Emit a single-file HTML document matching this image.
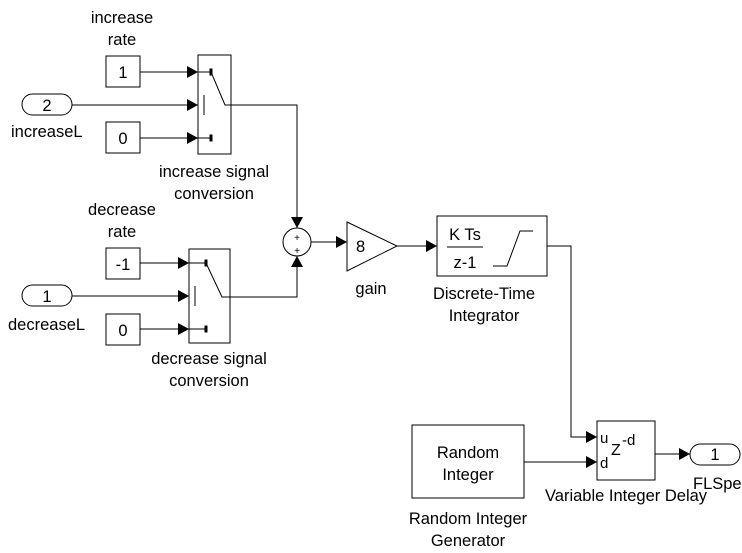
<!DOCTYPE html>
<html><head><style>body{margin:0;background:#fff}svg{display:block}text{font-family:"Liberation Sans",Arial,sans-serif;font-size:16.5px;fill:#000}</style></head>
<body>
<svg width="742" height="553" viewBox="0 0 742 553">
<defs><marker id="a" markerWidth="12" markerHeight="12" refX="11" refY="6" orient="auto" markerUnits="userSpaceOnUse"><path d="M0,0 L11,6 L0,12 z" fill="#000"/></marker></defs>
<g fill="none" stroke="#000" stroke-width="1">
<rect x="106" y="56" width="34" height="31"/>
<rect x="106" y="122" width="34" height="31"/>
<rect x="106" y="248" width="34" height="31"/>
<rect x="106" y="314" width="34" height="31"/>
<rect x="22" y="94" width="50" height="21" rx="10.5"/>
<rect x="22" y="285" width="50" height="21" rx="10.5"/>
<rect x="198" y="55" width="33" height="99"/>
<rect x="189" y="249" width="41" height="94"/>
<path d="M198,72 H211 M211,72 L225,105 H231 M198,138 H211 M204,95 V115"/>
<rect x="210" y="69" width="2" height="6" fill="#000"/><rect x="210" y="135" width="2" height="6" fill="#000"/>
<path d="M189,263 H206 M206,263 L222,297 H230 M189,329 H206 M195,286 V306"/>
<rect x="205" y="260" width="2" height="6" fill="#000"/><rect x="205" y="326" width="2" height="6" fill="#000"/>
<circle cx="297" cy="242" r="14"/>
<path d="M347,222 L397,246 L347,271 Z"/>
<rect x="437" y="216" width="110" height="60"/>
<path d="M447,247 H483 M493,266 H507 L520,231 H533"/>
<rect x="412" y="425" width="112" height="73"/>
<rect x="597" y="421" width="58" height="59"/>
<rect x="690" y="444" width="50" height="21" rx="10.5"/>
<path d="M140,72 H198" marker-end="url(#a)"/>
<path d="M72,105 H198" marker-end="url(#a)"/>
<path d="M140,138 H198" marker-end="url(#a)"/>
<path d="M231,105 H297 V228" marker-end="url(#a)"/>
<path d="M140,263 H189" marker-end="url(#a)"/>
<path d="M72,296 H189" marker-end="url(#a)"/>
<path d="M140,329 H189" marker-end="url(#a)"/>
<path d="M230,297 H297 V256" marker-end="url(#a)"/>
<path d="M311,242 H347" marker-end="url(#a)"/>
<path d="M397,246 H437" marker-end="url(#a)"/>
<path d="M547,246 H571 V437 H597" marker-end="url(#a)"/>
<path d="M524,462 H597" marker-end="url(#a)"/>
<path d="M655,454 H690" marker-end="url(#a)"/>
</g>
<text x="123" y="78" text-anchor="middle">1</text>
<text x="123" y="144" text-anchor="middle">0</text>
<text x="123" y="270" text-anchor="middle">-1</text>
<text x="123" y="336" text-anchor="middle">0</text>
<text x="47" y="111" text-anchor="middle">2</text>
<text x="47" y="302" text-anchor="middle">1</text>
<text x="715" y="460" text-anchor="middle">1</text>
<text x="122" y="23" text-anchor="middle">increase</text>
<text x="122" y="45" text-anchor="middle">rate</text>
<text x="11" y="137">increaseL</text>
<text x="214" y="177" text-anchor="middle">increase signal</text>
<text x="214" y="199" text-anchor="middle">conversion</text>
<text x="122" y="215" text-anchor="middle">decrease</text>
<text x="122" y="237" text-anchor="middle">rate</text>
<text x="8" y="330">decreaseL</text>
<text x="209" y="364" text-anchor="middle">decrease signal</text>
<text x="209" y="386" text-anchor="middle">conversion</text>
<text x="297" y="241" text-anchor="middle" style="font-size:10px">+</text>
<text x="297" y="254" text-anchor="middle" style="font-size:10px">+</text>
<text x="356" y="252">8</text>
<text x="371" y="294" text-anchor="middle">gain</text>
<text x="465" y="240" text-anchor="middle">K Ts</text>
<text x="465" y="268" text-anchor="middle">z-1</text>
<text x="484" y="299" text-anchor="middle">Discrete-Time</text>
<text x="484" y="321" text-anchor="middle">Integrator</text>
<text x="468" y="458" text-anchor="middle">Random</text>
<text x="468" y="480" text-anchor="middle">Integer</text>
<text x="468" y="524" text-anchor="middle">Random Integer</text>
<text x="468" y="546" text-anchor="middle">Generator</text>
<text x="600" y="443" style="font-size:15px">u</text>
<text x="611" y="455" style="font-size:16px">Z</text>
<text x="622" y="445" style="font-size:15px">-d</text>
<text x="600" y="468" style="font-size:15px">d</text>
<text x="545" y="501">Variable Integer Delay</text>
<text x="693" y="489">FLSpeed</text>
</svg>
</body></html>
